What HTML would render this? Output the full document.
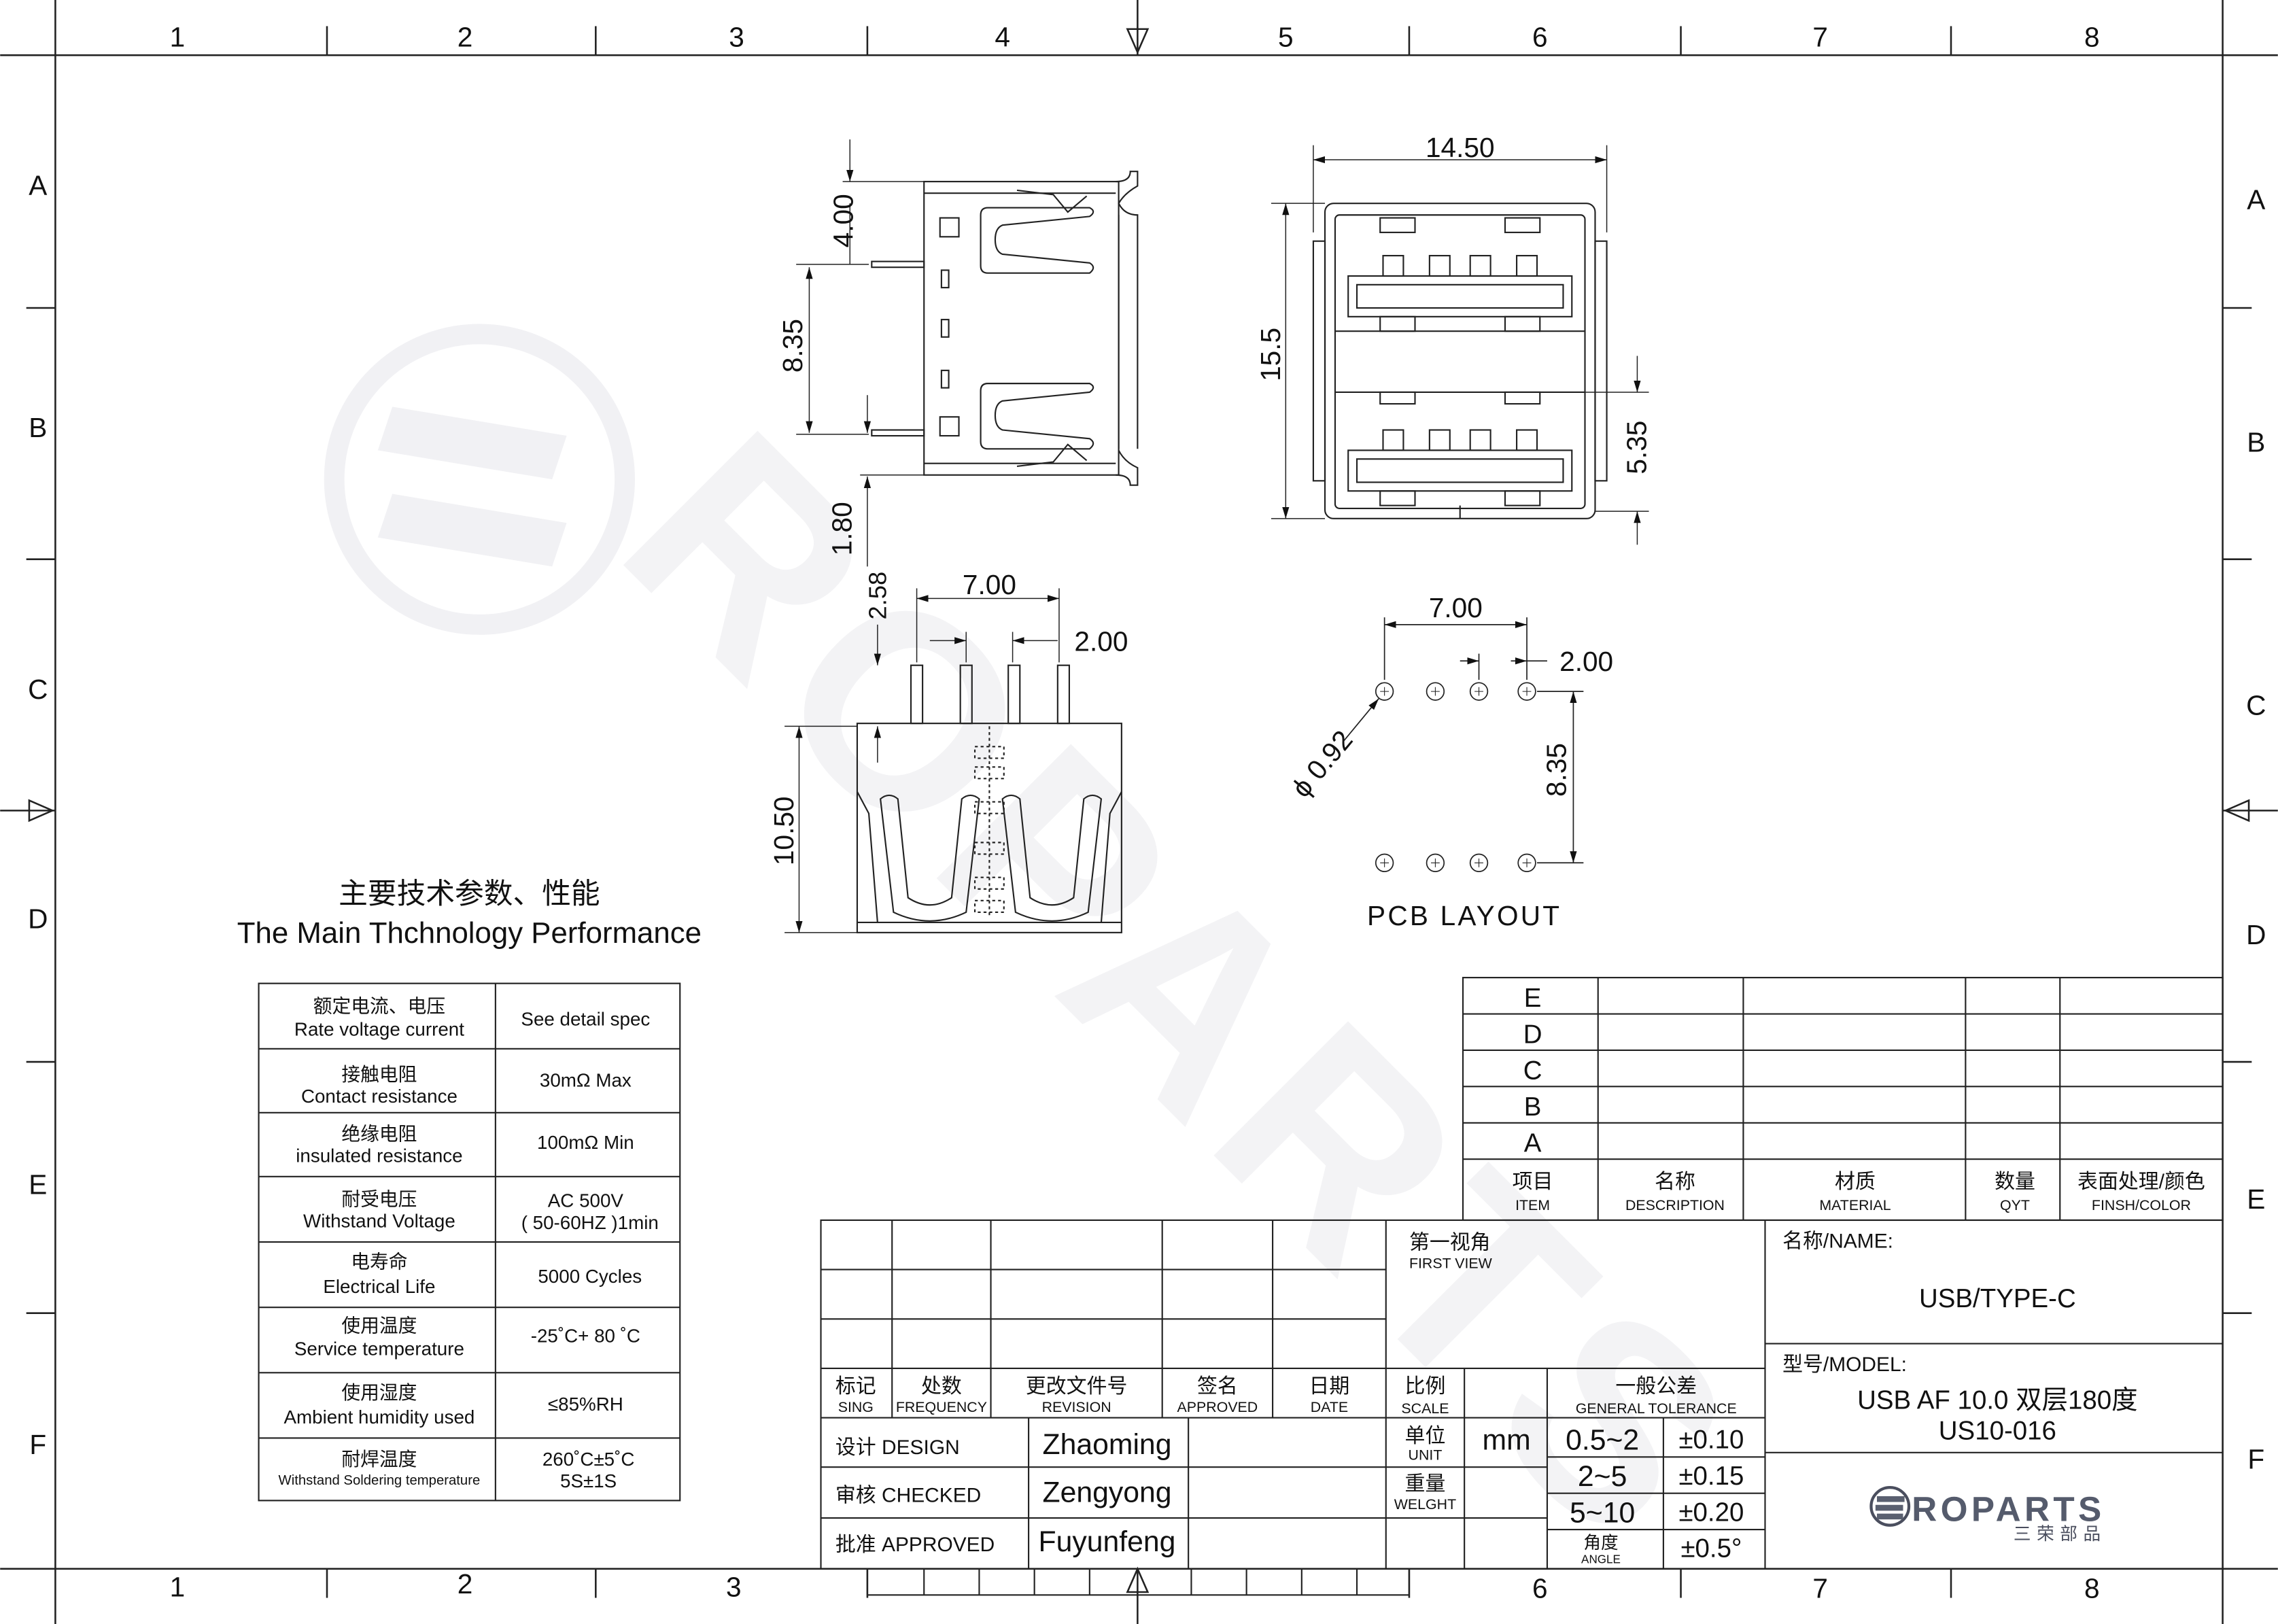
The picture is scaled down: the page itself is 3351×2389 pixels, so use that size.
<!DOCTYPE html>
<html><head><meta charset="utf-8"><style>
html,body{margin:0;padding:0;background:#fff}
svg{display:block}
text{font-family:"Liberation Sans","Noto Sans CJK SC",sans-serif;fill:#111}
</style></head><body>
<svg width="3351" height="2389" viewBox="0 0 1568 1118" xmlns="http://www.w3.org/2000/svg">
<defs>
<marker id="ar" viewBox="0 0 10 10" refX="10" refY="5" markerWidth="8" markerHeight="8" orient="auto-start-reverse" markerUnits="userSpaceOnUse"><path d="M0,2 L10,5 L0,8z" fill="#111"/></marker>
</defs>
<!-- watermark -->
<g>
<circle cx="330" cy="330" r="100" fill="none" stroke="#f1f1f4" stroke-width="14"/>
<path d="M270 280 L390 300 L380 330 L260 310z" fill="#f1f1f4"/>
<path d="M270 340 L390 360 L380 390 L260 370z" fill="#f1f1f4"/>
<text x="0" y="0" transform="translate(420,380) rotate(45)" font-size="190" font-weight="bold" style="fill:#f3f3f5;letter-spacing:10px">ROPARTS</text>
</g>
<!-- frame -->
<g stroke="#222" stroke-width="1.2" fill="none">
<rect x="38" y="38" width="1492" height="1042"/>
<line x1="0" y1="38" x2="38" y2="38"/><line x1="1530" y1="38" x2="1568" y2="38"/>
<line x1="0" y1="1080" x2="38" y2="1080"/><line x1="1530" y1="1080" x2="1568" y2="1080"/>
<line x1="38" y1="0" x2="38" y2="38"/><line x1="1530" y1="0" x2="1530" y2="38"/>
<line x1="38" y1="1080" x2="38" y2="1118"/><line x1="1530" y1="1080" x2="1530" y2="1118"/>
<g>
<line x1="225" y1="18" x2="225" y2="38"/><line x1="410" y1="18" x2="410" y2="38"/><line x1="597" y1="18" x2="597" y2="38"/><line x1="970" y1="18" x2="970" y2="38"/><line x1="1157" y1="18" x2="1157" y2="38"/><line x1="1343" y1="18" x2="1343" y2="38"/>
<line x1="225" y1="1080" x2="225" y2="1100"/><line x1="410" y1="1080" x2="410" y2="1100"/><line x1="597" y1="1080" x2="597" y2="1100"/><line x1="970" y1="1080" x2="970" y2="1100"/><line x1="1157" y1="1080" x2="1157" y2="1100"/><line x1="1343" y1="1080" x2="1343" y2="1100"/>
<line x1="18" y1="212" x2="38" y2="212"/><line x1="18" y1="385" x2="38" y2="385"/><line x1="18" y1="731" x2="38" y2="731"/><line x1="18" y1="904" x2="38" y2="904"/>
<line x1="1530" y1="212" x2="1550" y2="212"/><line x1="1530" y1="385" x2="1550" y2="385"/><line x1="1530" y1="731" x2="1550" y2="731"/><line x1="1530" y1="904" x2="1550" y2="904"/>
<line x1="783" y1="0" x2="783" y2="38"/><path d="M776 20 L790 20 L783 36z"/>
<line x1="783" y1="1080" x2="783" y2="1118"/><path d="M776 1096 L790 1096 L783 1080z"/>
<line x1="0" y1="558" x2="38" y2="558"/><path d="M20 551 L20 565 L36 558z"/>
<line x1="1530" y1="558" x2="1568" y2="558"/><path d="M1548 551 L1548 565 L1532 558z"/>
</g>
</g>
<g font-size="19" text-anchor="middle">
<text x="122" y="32">1</text><text x="320" y="32">2</text><text x="507" y="32">3</text><text x="690" y="32">4</text><text x="885" y="32">5</text><text x="1060" y="32">6</text><text x="1253" y="32">7</text><text x="1440" y="32">8</text>
<text x="122" y="1099">1</text><text x="320" y="1097">2</text><text x="505" y="1099">3</text><text x="1060" y="1100">6</text><text x="1253" y="1100">7</text><text x="1440" y="1100">8</text>
<text x="26" y="134">A</text><text x="26" y="301">B</text><text x="26" y="481">C</text><text x="26" y="639">D</text><text x="26" y="822">E</text><text x="26" y="1001">F</text>
<text x="1553" y="144">A</text><text x="1553" y="311">B</text><text x="1553" y="492">C</text><text x="1553" y="650">D</text><text x="1553" y="832">E</text><text x="1553" y="1011">F</text>
</g>

<!-- side view -->
<g stroke="#222" stroke-width="1" fill="none">
<rect x="636" y="125" width="134" height="202"/>
<line x1="636" y1="133" x2="768" y2="133"/><line x1="636" y1="319" x2="768" y2="319"/>
<path d="M768 125 Q778 125 778 118 L783 118 L783 128 Q774 133 770 140 Q774 148 783 148 L783 309"/>
<path d="M770 148 L770 309"/>
<path d="M768 327 Q778 327 778 334 L783 334 L783 322 Q774 318 770 310"/>
<path d="M700 131 L725 134 L735 146 L748 135"/>
<path d="M700 321 L725 318 L735 306 L748 317"/>
<path d="M680 143 L750 143 Q755 145.5 750 149 L690 155 Q685 157 685 165 Q685 173 690 175 L750 181 Q755 184 750 188 L680 188 Q675 188 675 183 L675 148 Q675 143 680 143z"/>
<path d="M680 264 L750 264 Q755 266.5 750 270 L690 276 Q685 278 685 286 Q685 294 690 296 L750 302 Q755 305 750 309 L680 309 Q675 309 675 304 L675 269 Q675 264 680 264z"/>
<rect x="647" y="150" width="13" height="13"/><rect x="647" y="287" width="13" height="13"/>
<rect x="648" y="186" width="5" height="12"/><rect x="648" y="220" width="5" height="12"/><rect x="648" y="255" width="5" height="12"/>
<rect x="600" y="180" width="36" height="4"/><rect x="600" y="296" width="36" height="4"/>
</g>
<g stroke="#222" stroke-width="0.7" fill="none">
<line x1="580" y1="125" x2="636" y2="125"/><line x1="548" y1="182" x2="598" y2="182"/><line x1="548" y1="299" x2="598" y2="299"/><line x1="592" y1="327" x2="636" y2="327"/>
<line x1="585" y1="96" x2="585" y2="125" marker-end="url(#ar)"/><line x1="585" y1="182" x2="585" y2="140"/>
<line x1="557" y1="184" x2="557" y2="298" marker-start="url(#ar)" marker-end="url(#ar)"/>
<line x1="597" y1="272" x2="597" y2="298" marker-end="url(#ar)"/><line x1="597" y1="390" x2="597" y2="328" marker-end="url(#ar)"/>
</g>
<g font-size="19" text-anchor="middle">
<text transform="translate(587,152) rotate(-90)">4.00</text>
<text transform="translate(552,238) rotate(-90)">8.35</text>
<text transform="translate(586,364) rotate(-90)">1.80</text>
</g>

<!-- front view -->
<g stroke="#222" stroke-width="1" fill="none">
<rect x="912" y="140" width="186" height="217" rx="6"/>
<rect x="919" y="148" width="172" height="202" rx="3"/>
<rect x="904" y="166" width="8" height="165"/><rect x="1098" y="166" width="8" height="165"/>
<rect x="928" y="190" width="154" height="28"/><rect x="934" y="196" width="142" height="16"/>
<rect x="928" y="310" width="154" height="28"/><rect x="934" y="316" width="142" height="16"/>
<line x1="919" y1="228" x2="1091" y2="228"/><line x1="919" y1="270" x2="1091" y2="270"/>
<rect x="952" y="176" width="14" height="14"/><rect x="984" y="176" width="14" height="14"/><rect x="1012" y="176" width="14" height="14"/><rect x="1044" y="176" width="14" height="14"/>
<rect x="952" y="296" width="14" height="14"/><rect x="984" y="296" width="14" height="14"/><rect x="1012" y="296" width="14" height="14"/><rect x="1044" y="296" width="14" height="14"/>
<rect x="950" y="150" width="24" height="10"/><rect x="1036" y="150" width="24" height="10"/>
<rect x="950" y="218" width="24" height="10"/><rect x="1036" y="218" width="24" height="10"/>
<rect x="950" y="270" width="24" height="8"/><rect x="1036" y="270" width="24" height="8"/>
<rect x="950" y="338" width="24" height="10"/><rect x="1036" y="338" width="24" height="10"/>
<line x1="1005" y1="348" x2="1005" y2="357"/>
</g>
<g stroke="#222" stroke-width="0.7" fill="none">
<line x1="904" y1="100" x2="904" y2="160"/><line x1="1106" y1="100" x2="1106" y2="160"/>
<line x1="904" y1="110" x2="1106" y2="110" marker-start="url(#ar)" marker-end="url(#ar)"/>
<line x1="875" y1="140" x2="912" y2="140"/><line x1="875" y1="357" x2="912" y2="357"/>
<line x1="885" y1="140" x2="885" y2="357" marker-start="url(#ar)" marker-end="url(#ar)"/>
<line x1="1091" y1="270" x2="1135" y2="270"/><line x1="1098" y1="352" x2="1135" y2="352"/>
<line x1="1127" y1="245" x2="1127" y2="270" marker-end="url(#ar)"/><line x1="1127" y1="375" x2="1127" y2="352" marker-end="url(#ar)"/>
</g>
<g font-size="19" text-anchor="middle">
<text x="1005" y="108">14.50</text>
<text transform="translate(881,244) rotate(-90)">15.5</text>
<text transform="translate(1133,308) rotate(-90)">5.35</text>
</g>

<!-- bottom view -->
<g stroke="#222" stroke-width="1" fill="none">
<rect x="590" y="498" width="182" height="144"/>
<line x1="590" y1="635" x2="772" y2="635"/>
<path d="M590 545 L598 560 L604 635"/><path d="M772 545 L764 560 L758 635"/>
<path d="M606 550 Q612 545 618 550 L625 618 Q640 628 655 618 L662 550 Q668 545 674 550 L665 628 Q640 640 615 628z"/>
<path d="M690 550 Q696 545 702 550 L709 618 Q724 628 739 618 L746 550 Q752 545 758 550 L749 628 Q724 640 699 628z"/>
<rect x="627" y="458" width="8" height="40"/><rect x="661" y="458" width="8" height="40"/><rect x="694" y="458" width="8" height="40"/><rect x="728" y="458" width="8" height="40"/>
<g stroke-dasharray="2,2"><rect x="671" y="514" width="20" height="8"/><rect x="671" y="528" width="20" height="8"/><rect x="671" y="552" width="20" height="8"/><rect x="671" y="580" width="20" height="8"/><rect x="671" y="604" width="20" height="8"/><rect x="671" y="620" width="20" height="8"/><line x1="681" y1="500" x2="681" y2="630"/></g>
</g>
<g stroke="#222" stroke-width="0.7" fill="none">
<line x1="631" y1="405" x2="631" y2="456"/><line x1="729" y1="405" x2="729" y2="456"/><line x1="665" y1="435" x2="665" y2="456"/><line x1="697" y1="435" x2="697" y2="456"/>
<line x1="631" y1="412" x2="729" y2="412" marker-start="url(#ar)" marker-end="url(#ar)"/>
<line x1="640" y1="441" x2="665" y2="441" marker-end="url(#ar)"/><line x1="728" y1="441" x2="697" y2="441" marker-end="url(#ar)"/>
<line x1="540" y1="500" x2="590" y2="500"/><line x1="540" y1="642" x2="590" y2="642"/>
<line x1="550" y1="500" x2="550" y2="642" marker-start="url(#ar)" marker-end="url(#ar)"/>
<line x1="604" y1="430" x2="604" y2="458" marker-end="url(#ar)"/><line x1="604" y1="525" x2="604" y2="500" marker-end="url(#ar)"/>
</g>
<g font-size="19" text-anchor="middle">
<text x="681" y="409">7.00</text><text x="758" y="448">2.00</text>
<text transform="translate(546,572) rotate(-90)">10.50</text>
<text transform="translate(610,410) rotate(-90)" font-size="17">2.58</text>
</g>

<!-- PCB -->
<g stroke="#222" stroke-width="0.8" fill="none">
<circle cx="953" cy="476" r="6"/><circle cx="988" cy="476" r="6"/><circle cx="1018" cy="476" r="6"/><circle cx="1051" cy="476" r="6"/>
<circle cx="953" cy="594" r="6"/><circle cx="988" cy="594" r="6"/><circle cx="1018" cy="594" r="6"/><circle cx="1051" cy="594" r="6"/>
<g stroke-width="0.5"><path d="M950 476h6M953 473v6M985 476h6M988 473v6M1015 476h6M1018 473v6M1048 476h6M1051 473v6M950 594h6M953 591v6M985 594h6M988 591v6M1015 594h6M1018 591v6M1048 594h6M1051 591v6"/></g>
<line x1="953" y1="425" x2="953" y2="468"/><line x1="1051" y1="425" x2="1051" y2="468"/><line x1="1018" y1="450" x2="1018" y2="468"/>
<line x1="953" y1="430" x2="1051" y2="430" marker-start="url(#ar)" marker-end="url(#ar)"/>
<line x1="1040" y1="455" x2="1051" y2="455" marker-end="url(#ar)"/><line x1="1065" y1="455" x2="1051" y2="455"/>
<line x1="1005" y1="455" x2="1018" y2="455" marker-end="url(#ar)"/>
<line x1="1058" y1="476" x2="1090" y2="476"/><line x1="1058" y1="594" x2="1090" y2="594"/>
<line x1="1083" y1="476" x2="1083" y2="594" marker-start="url(#ar)" marker-end="url(#ar)"/>
<line x1="925" y1="510" x2="949" y2="481" marker-end="url(#ar)"/>
</g>
<g font-size="19" text-anchor="middle">
<text x="1002" y="425">7.00</text><text x="1092" y="462">2.00</text>
<text transform="translate(1078,530) rotate(-90)">8.35</text>
<text transform="translate(915,530) rotate(-50)">ϕ 0.92</text>
<text x="1008" y="637" style="letter-spacing:1.5px">PCB LAYOUT</text>
<text x="323" y="622" font-size="20">主要技术参数、性能</text>
<text x="323" y="649" font-size="20.5">The Main Thchnology Performance</text>
</g>

<!-- performance table -->
<g stroke="#222" stroke-width="1" fill="none">
<rect x="178" y="677" width="290" height="356"/>
<line x1="341" y1="677" x2="341" y2="1033"/>
<line x1="178" y1="722" x2="468" y2="722"/><line x1="178" y1="766" x2="468" y2="766"/><line x1="178" y1="810" x2="468" y2="810"/><line x1="178" y1="855" x2="468" y2="855"/><line x1="178" y1="900" x2="468" y2="900"/><line x1="178" y1="945" x2="468" y2="945"/><line x1="178" y1="990" x2="468" y2="990"/>
</g>
<g font-size="13" text-anchor="middle">
<text x="261" y="697">额定电流、电压</text><text x="261" y="713">Rate voltage current</text><text x="403" y="706">See detail spec</text>
<text x="261" y="744">接触电阻</text><text x="261" y="759">Contact resistance</text><text x="403" y="748">30mΩ Max</text>
<text x="261" y="785">绝缘电阻</text><text x="261" y="800">insulated resistance</text><text x="403" y="791">100mΩ Min</text>
<text x="261" y="830">耐受电压</text><text x="261" y="845">Withstand Voltage</text><text x="403" y="831">AC 500V</text><text x="406" y="846">( 50-60HZ )1min</text>
<text x="261" y="873">电寿命</text><text x="261" y="890">Electrical Life</text><text x="406" y="883">5000 Cycles</text>
<text x="261" y="917">使用温度</text><text x="261" y="933">Service temperature</text><text x="403" y="924">-25˚C+ 80 ˚C</text>
<text x="261" y="963">使用湿度</text><text x="261" y="980">Ambient humidity used</text><text x="403" y="971">≤85%RH</text>
<text x="261" y="1009">耐焊温度</text><text x="261" y="1022" font-size="9.5">Withstand Soldering temperature</text><text x="405" y="1009">260˚C±5˚C</text><text x="405" y="1024">5S±1S</text>
</g>

<!-- revision table -->
<g stroke="#222" stroke-width="1" fill="none">
<rect x="1007" y="673" width="523" height="167"/>
<line x1="1007" y1="698" x2="1530" y2="698"/><line x1="1007" y1="723" x2="1530" y2="723"/><line x1="1007" y1="748" x2="1530" y2="748"/><line x1="1007" y1="773" x2="1530" y2="773"/><line x1="1007" y1="798" x2="1530" y2="798"/>
<line x1="1100" y1="673" x2="1100" y2="840"/><line x1="1200" y1="673" x2="1200" y2="840"/><line x1="1353" y1="673" x2="1353" y2="840"/><line x1="1418" y1="673" x2="1418" y2="840"/>
</g>
<g font-size="18" text-anchor="middle">
<text x="1055" y="693">E</text><text x="1055" y="718">D</text><text x="1055" y="743">C</text><text x="1055" y="768">B</text><text x="1055" y="793">A</text>
</g>
<g font-size="14" text-anchor="middle">
<text x="1055" y="818">项目</text><text x="1153" y="818">名称</text><text x="1277" y="818">材质</text><text x="1387" y="818">数量</text><text x="1474" y="818">表面处理/颜色</text>
</g>
<g font-size="10" text-anchor="middle">
<text x="1055" y="833">ITEM</text><text x="1153" y="833">DESCRIPTION</text><text x="1277" y="833">MATERIAL</text><text x="1387" y="833">QYT</text><text x="1474" y="833">FINSH/COLOR</text>
</g>

<!-- title block -->
<g stroke="#222" stroke-width="1" fill="none">
<rect x="565" y="840" width="965" height="240"/>
<line x1="565" y1="874" x2="954" y2="874"/><line x1="565" y1="908" x2="954" y2="908"/><line x1="565" y1="942" x2="954" y2="942"/><line x1="565" y1="976" x2="1215" y2="976"/>
<line x1="614" y1="840" x2="614" y2="976"/><line x1="682" y1="840" x2="682" y2="976"/><line x1="800" y1="840" x2="800" y2="976"/><line x1="876" y1="840" x2="876" y2="976"/>
<line x1="954" y1="840" x2="954" y2="1080"/><line x1="954" y1="942" x2="1215" y2="942"/>
<line x1="565" y1="1010" x2="954" y2="1010"/><line x1="565" y1="1045" x2="954" y2="1045"/>
<line x1="708" y1="976" x2="708" y2="1080"/><line x1="818" y1="976" x2="818" y2="1080"/>
<line x1="1008" y1="942" x2="1008" y2="1080"/><line x1="1065" y1="942" x2="1065" y2="1080"/><line x1="1145" y1="976" x2="1145" y2="1080"/>
<line x1="954" y1="1010" x2="1065" y2="1010"/><line x1="954" y1="1045" x2="1065" y2="1045"/>
<line x1="1065" y1="1003" x2="1215" y2="1003"/><line x1="1065" y1="1028" x2="1215" y2="1028"/><line x1="1065" y1="1053" x2="1215" y2="1053"/>
<line x1="1215" y1="840" x2="1215" y2="1080"/>
<line x1="1215" y1="925" x2="1530" y2="925"/><line x1="1215" y1="1000" x2="1530" y2="1000"/>
<line x1="597" y1="1080" x2="597" y2="1098"/><line x1="597" y1="1098" x2="970" y2="1098"/><line x1="970" y1="1080" x2="970" y2="1098"/>
<line x1="636" y1="1080" x2="636" y2="1098"/><line x1="674" y1="1080" x2="674" y2="1098"/><line x1="712" y1="1080" x2="712" y2="1098"/><line x1="750" y1="1080" x2="750" y2="1098"/><line x1="820" y1="1080" x2="820" y2="1098"/><line x1="858" y1="1080" x2="858" y2="1098"/><line x1="896" y1="1080" x2="896" y2="1098"/><line x1="934" y1="1080" x2="934" y2="1098"/>
</g>
<g font-size="14" text-anchor="middle">
<text x="589" y="959">标记</text><text x="648" y="959">处数</text><text x="741" y="959">更改文件号</text><text x="838" y="959">签名</text><text x="915" y="959">日期</text>
<text x="981" y="959">比例</text><text x="1140" y="959">一般公差</text>
<text x="981" y="993">单位</text><text x="981" y="1026">重量</text>
</g>
<g font-size="10" text-anchor="middle">
<text x="589" y="972">SING</text><text x="648" y="972">FREQUENCY</text><text x="741" y="972">REVISION</text><text x="838" y="972">APPROVED</text><text x="915" y="972">DATE</text>
<text x="981" y="973">SCALE</text><text x="1140" y="973">GENERAL TOLERANCE</text>
<text x="981" y="1005">UNIT</text><text x="981" y="1039">WELGHT</text><text x="1102" y="1076" font-size="8">ANGLE</text>
</g>
<g font-size="14">
<text x="575" y="1001">设计 DESIGN</text><text x="575" y="1034">审核 CHECKED</text><text x="575" y="1068">批准 APPROVED</text>
<text x="970" y="860">第一视角</text><text x="970" y="873" font-size="10">FIRST VIEW</text>
<text x="1227" y="859">名称/NAME:</text><text x="1227" y="944">型号/MODEL:</text>
</g>
<g font-size="20" text-anchor="middle">
<text x="762" y="1001">Zhaoming</text><text x="762" y="1034">Zengyong</text><text x="762" y="1068">Fuyunfeng</text>
<text x="1037" y="998">mm</text>
<text x="1103" y="998">0.5~2</text><text x="1103" y="1023">2~5</text><text x="1103" y="1048">5~10</text>
<text x="1178" y="997" font-size="18">±0.10</text><text x="1178" y="1022" font-size="18">±0.15</text><text x="1178" y="1047" font-size="18">±0.20</text><text x="1178" y="1072" font-size="18">±0.5°</text>
<text x="1102" y="1066" font-size="12">角度</text>
<text x="1375" y="900" font-size="18">USB/TYPE-C</text>
<text x="1375" y="970" font-size="18">USB AF 10.0 双层180度</text>
<text x="1375" y="991" font-size="18">US10-016</text>
</g>
<!-- logo -->
<g>
<circle cx="1301" cy="1037" r="13" fill="none" stroke="#4a4e5e" stroke-width="2"/>
<path d="M1292 1030 h19 v4 h-19z M1291 1036 h19 v4 h-19z M1292 1042 h18 v4 h-18z" fill="#5a6070"/>
<text x="1316" y="1047" font-size="24" font-weight="bold" style="fill:#555b6c;letter-spacing:2.5px">ROPARTS</text>
<text x="1450" y="1060" font-size="12" text-anchor="end" style="fill:#4a4e5e;letter-spacing:4px">三荣部品</text>
</g>
</svg>
</body></html>
